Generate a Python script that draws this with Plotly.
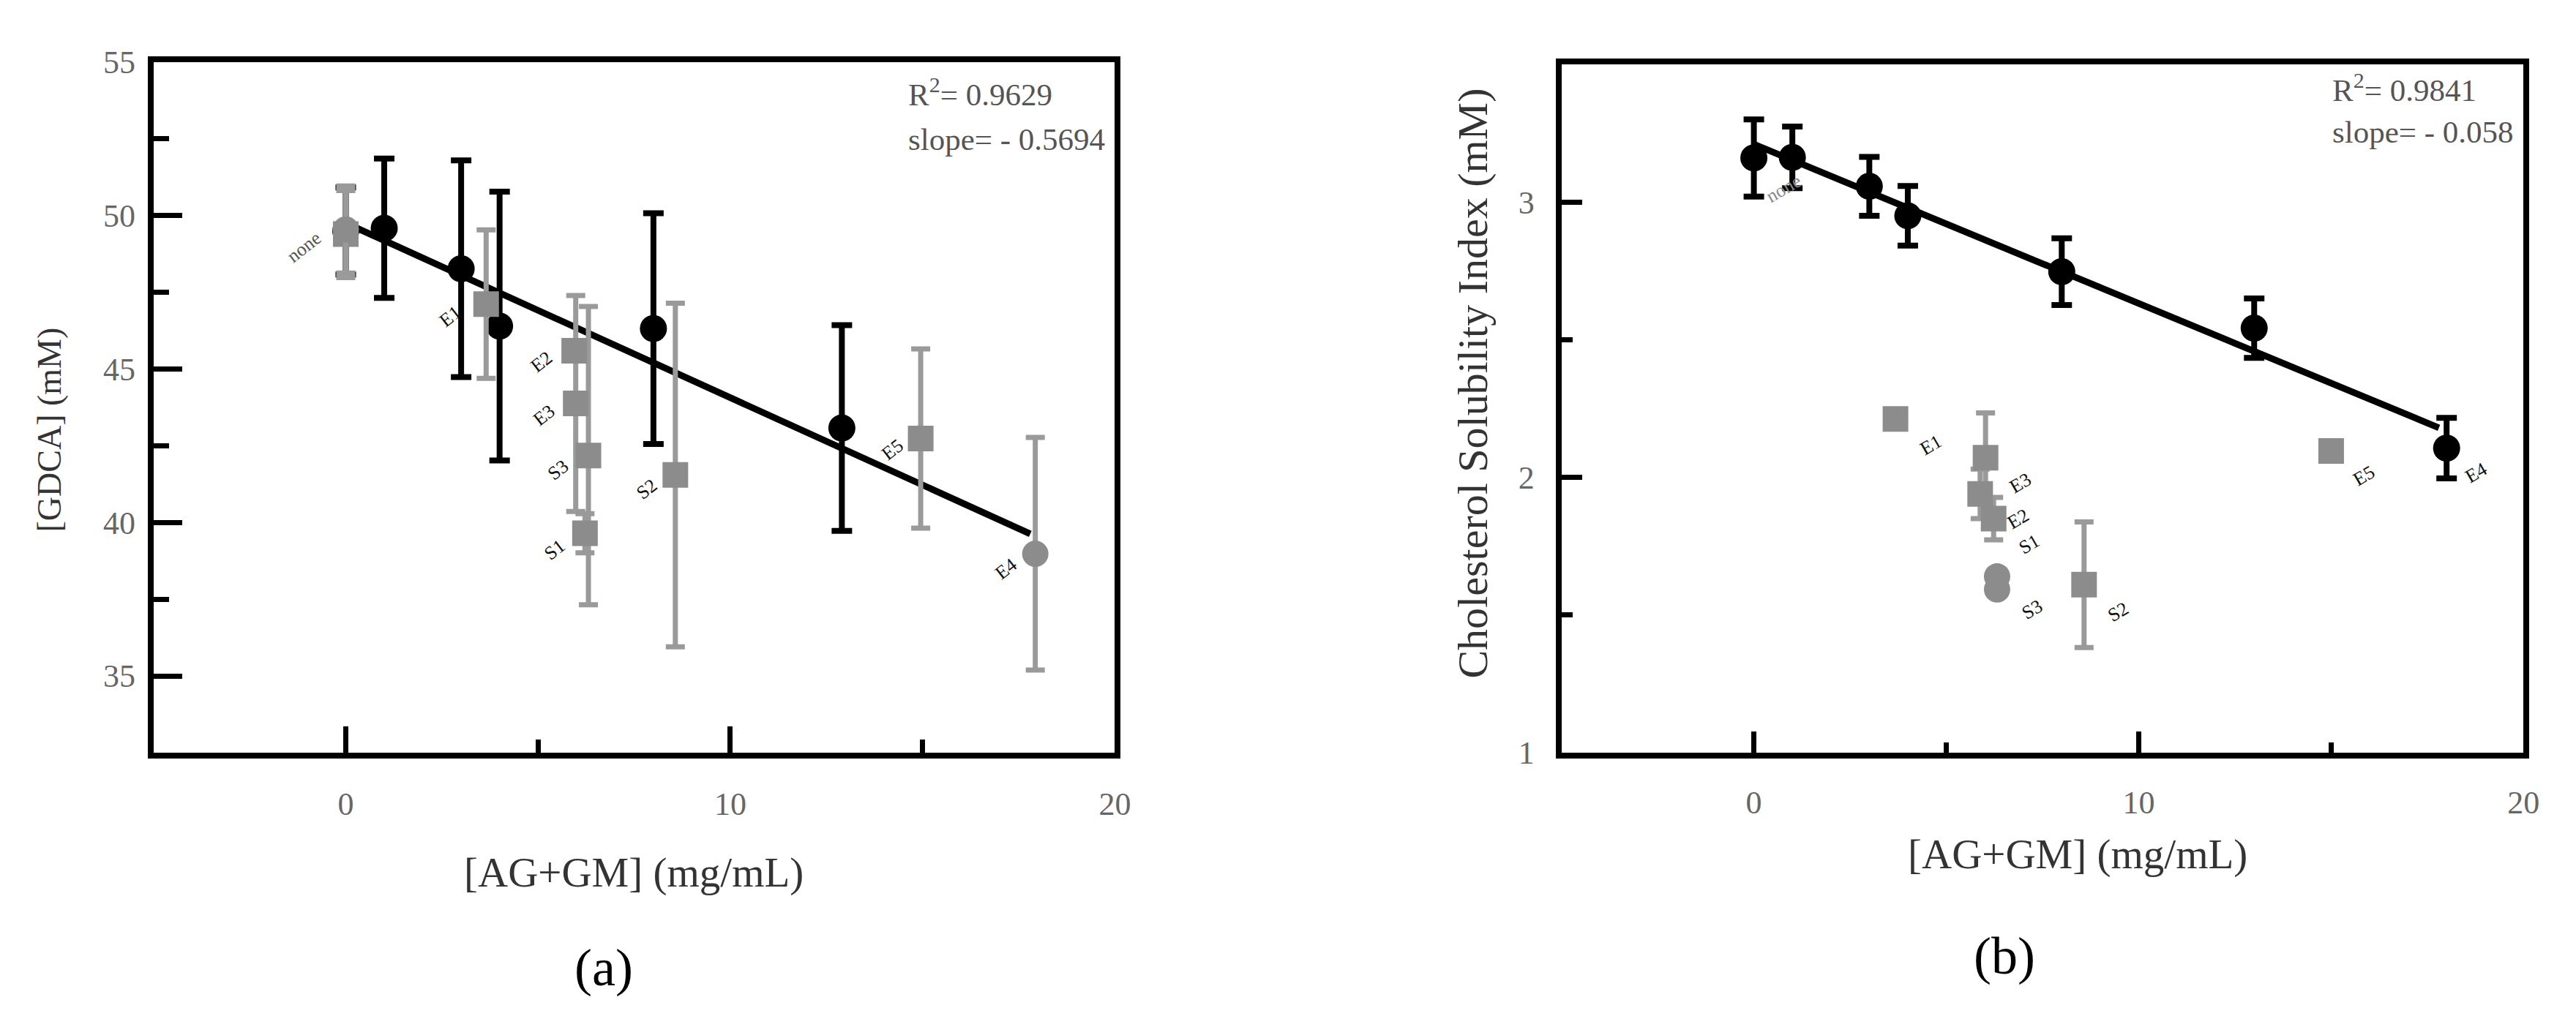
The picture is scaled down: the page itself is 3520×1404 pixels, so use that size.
import plotly.graph_objects as go

W, H = 3520, 1404
SERIF = "Liberation Serif"

# ---------------- Panel (a): [GDCA] ----------------
blk_a_x = [0, 1, 3, 4, 8, 12.9]
blk_a_y = [49.5, 49.59, 48.27, 46.40, 46.32, 43.08]
blk_a_err = [1.42, 2.27, 3.53, 4.38, 3.76, 3.35]

sq_a_x = [0, 3.65, 5.94, 5.98, 6.31, 6.22, 8.57, 14.95]
sq_a_y = [49.40, 47.12, 45.60, 43.88, 42.18, 39.65, 41.55, 42.74]
sq_a_err = [1.42, 2.42, 0.0, 3.52, 4.86, 0.64, 5.60, 2.92]

cir_a_x = [0, 17.93]
cir_a_y = [49.55, 38.98]
cir_a_err = [1.42, 3.79]

fit_a_x = [0, 17.8]
fit_a_y = [49.76, 39.63]

lab_a_text = ["none", "E1", "E2", "E3", "S3", "S1", "S2", "E5", "E4"]
lab_a_x = [-1.08, 2.72, 5.09, 5.16, 5.52, 5.43, 7.83, 14.22, 17.17]
lab_a_y = [48.99, 46.71, 45.25, 43.50, 41.71, 39.12, 41.09, 42.38, 38.50]

# ---------------- Panel (b): Cholesterol Solubility Index ----------------
blk_b_x = [0, 1, 3, 4, 8, 13, 18]
blk_b_y = [3.160, 3.162, 3.057, 2.950, 2.747, 2.542, 2.106]
blk_b_err = [0.140, 0.112, 0.107, 0.108, 0.121, 0.108, 0.110]

sq_b_x = [3.68, 6.02, 5.88, 6.23, 8.58, 15.0]
sq_b_y = [2.212, 2.071, 1.940, 1.850, 1.610, 2.096]
sq_b_err = [0.0, 0.163, 0.090, 0.077, 0.228, 0.0]

cir_b_x = [6.32, 6.32]
cir_b_y = [1.640, 1.593]

fit_b_x = [0, 17.8]
fit_b_y = [3.21, 2.18]

lab_b_text = ["none", "E1", "E3", "E2", "S1", "S3", "S2", "E5", "E4"]
lab_b_x = [0.78, 4.60, 6.92, 6.86, 7.14, 7.22, 9.47, 15.85, 18.76]
lab_b_y = [3.05, 2.118, 1.98, 1.85, 1.757, 1.52, 1.51, 2.005, 2.017]

# axis settings
x_range = [-5, 20]
x_major = [0, 10, 20]
x_minor = [5, 15]
ya_range = [32.5, 55]
ya_major = [35, 40, 45, 50, 55]
ya_minor = [37.5, 42.5, 47.5, 52.5]
yb_range = [1, 3.5]
yb_major = [1, 2, 3]
yb_minor = [1.5, 2.5]

BLACK = "#000000"
GRAY = "#8c8c8c"
GRAY_ERR = "#9a9a9a"

fig = go.Figure()


def add_panel(xa, ya, bx, by, berr, sx, sy, serr, cx, cy, cerr, fx, fy):
    fig.add_trace(go.Scatter(
        x=bx, y=by, mode="markers", xaxis=xa, yaxis=ya,
        marker=dict(symbol="circle", size=37, color=BLACK, line=dict(width=0)),
        error_y=dict(type="data", array=berr, color=BLACK, thickness=8, width=14),
        showlegend=False))
    fig.add_trace(go.Scatter(
        x=fx, y=fy, mode="lines", xaxis=xa, yaxis=ya,
        line=dict(color=BLACK, width=9), showlegend=False))
    fig.add_trace(go.Scatter(
        x=sx, y=sy, mode="markers", xaxis=xa, yaxis=ya,
        marker=dict(symbol="square", size=35, color=GRAY, line=dict(width=0)),
        error_y=dict(type="data", array=serr, color=GRAY_ERR, thickness=7, width=13),
        showlegend=False))
    ed = dict(type="data", array=cerr, color=GRAY_ERR, thickness=7, width=13) if cerr else None
    fig.add_trace(go.Scatter(
        x=cx, y=cy, mode="markers", xaxis=xa, yaxis=ya,
        marker=dict(symbol="circle", size=36, color=GRAY, line=dict(width=0)),
        error_y=ed, showlegend=False))


add_panel("x", "y", blk_a_x, blk_a_y, blk_a_err, sq_a_x, sq_a_y, sq_a_err,
          cir_a_x, cir_a_y, cir_a_err, fit_a_x, fit_a_y)
add_panel("x2", "y2", blk_b_x, blk_b_y, blk_b_err, sq_b_x, sq_b_y, sq_b_err,
          cir_b_x, cir_b_y, None, fit_b_x, fit_b_y)

tickfont = dict(family=SERIF, size=44, color="#666666")


def xaxis_cfg(domain, ticklen, standoff, anchor):
    return dict(domain=domain, range=x_range, tickmode="array", tickvals=x_major,
                ticktext=[str(v) for v in x_major], anchor=anchor,
                ticks="inside", ticklen=ticklen, tickwidth=7, tickcolor=BLACK,
                minor=dict(tickmode="array", tickvals=x_minor, ticks="inside",
                           ticklen=ticklen // 2, tickwidth=7, tickcolor=BLACK),
                showline=True, linewidth=8, linecolor=BLACK, mirror=True,
                showgrid=False, zeroline=False, tickfont=tickfont,
                ticklabelstandoff=standoff, fixedrange=True)


def yaxis_cfg(domain, rng, major, minor, ticklen, anchor, standoff):
    return dict(domain=domain, range=rng, tickmode="array", tickvals=major,
                ticktext=[str(v) for v in major], anchor=anchor,
                ticks="inside", ticklen=ticklen, tickwidth=7, tickcolor=BLACK,
                minor=dict(tickmode="array", tickvals=minor, ticks="inside",
                           ticklen=int(ticklen * 0.55), tickwidth=7, tickcolor=BLACK),
                showline=True, linewidth=8, linecolor=BLACK, mirror=True,
                showgrid=False, zeroline=False, tickfont=tickfont,
                ticklabelstandoff=standoff, fixedrange=True)


ydom_a = [1 - 1033 / H, 1 - 55 / H]
ydom_b = [1 - 1033 / H, 1 - 58 / H]

fig.update_layout(
    width=W, height=H, autosize=False,
    margin=dict(l=0, r=0, t=0, b=0, pad=0),
    paper_bgcolor="white", plot_bgcolor="white",
    font=dict(family=SERIF, color="#333333"),
    xaxis=xaxis_cfg([203 / W, 1525 / W], 36, 24, "y"),
    yaxis=yaxis_cfg(ydom_a, ya_range, ya_major, ya_minor, 39, "x", 8),
    xaxis2=xaxis_cfg([2139 / W, 3462 / W], 29, 22, "y2"),
    yaxis2=yaxis_cfg(ydom_b, yb_range, yb_major, yb_minor, 28, "x2", 20),
)

ann = []
# point labels
for t, x, y in zip(lab_a_text, lab_a_x, lab_a_y):
    ann.append(dict(x=x, y=y, xref="x", yref="y", text=t, showarrow=False,
                    xanchor="center", yanchor="middle", textangle=-38,
                    font=dict(family=SERIF, size=26,
                              color="#555555" if t == "none" else "#111111")))
for t, x, y in zip(lab_b_text, lab_b_x, lab_b_y):
    ann.append(dict(x=x, y=y, xref="x2", yref="y2", text=t, showarrow=False,
                    xanchor="center", yanchor="middle", textangle=-30,
                    font=dict(family=SERIF, size=26,
                              color="#888888" if t == "none" else "#111111")))

# statistics text
stat_font = dict(family=SERIF, size=43, color="#555555")
for txt, px, py in [("R<sup>2</sup>= 0.9629", 1239, 97), ("slope= - 0.5694", 1239, 164),
                    ("R<sup>2</sup>= 0.9841", 3197, 91), ("slope= - 0.058", 3197, 154)]:
    ann.append(dict(x=px / W, y=1 - py / H, xref="paper", yref="paper", text=txt,
                    showarrow=False, xanchor="left", yanchor="middle", font=stat_font))


def centered(txt, px, py, font, angle=0):
    return dict(x=px / W, y=1 - py / H, xref="paper", yref="paper", text=txt,
                showarrow=False, xanchor="center", yanchor="middle",
                textangle=angle, font=font)


# axis titles
title_font = dict(family=SERIF, size=57, color="#333333")
ann.append(centered("[AG+GM] (mg/mL)", 863, 1203, title_font))
ann.append(centered("[AG+GM] (mg/mL)", 2849, 1177, title_font))
ann.append(centered("[GDCA] (mM)", 60, 576,
                    dict(family=SERIF, size=46, color="#333333"), -90))
ann.append(centered("Cholesterol Solubility Index (mM)", 2017, 510,
                    dict(family=SERIF, size=58, color="#333333"), -90))
# panel letters
ann.append(centered("(a)", 822, 1338, dict(family=SERIF, size=72, color="#000000")))
ann.append(centered("(b)", 2748, 1321, dict(family=SERIF, size=72, color="#000000")))

fig.update_layout(annotations=ann)
fig.write_html("out.html")
